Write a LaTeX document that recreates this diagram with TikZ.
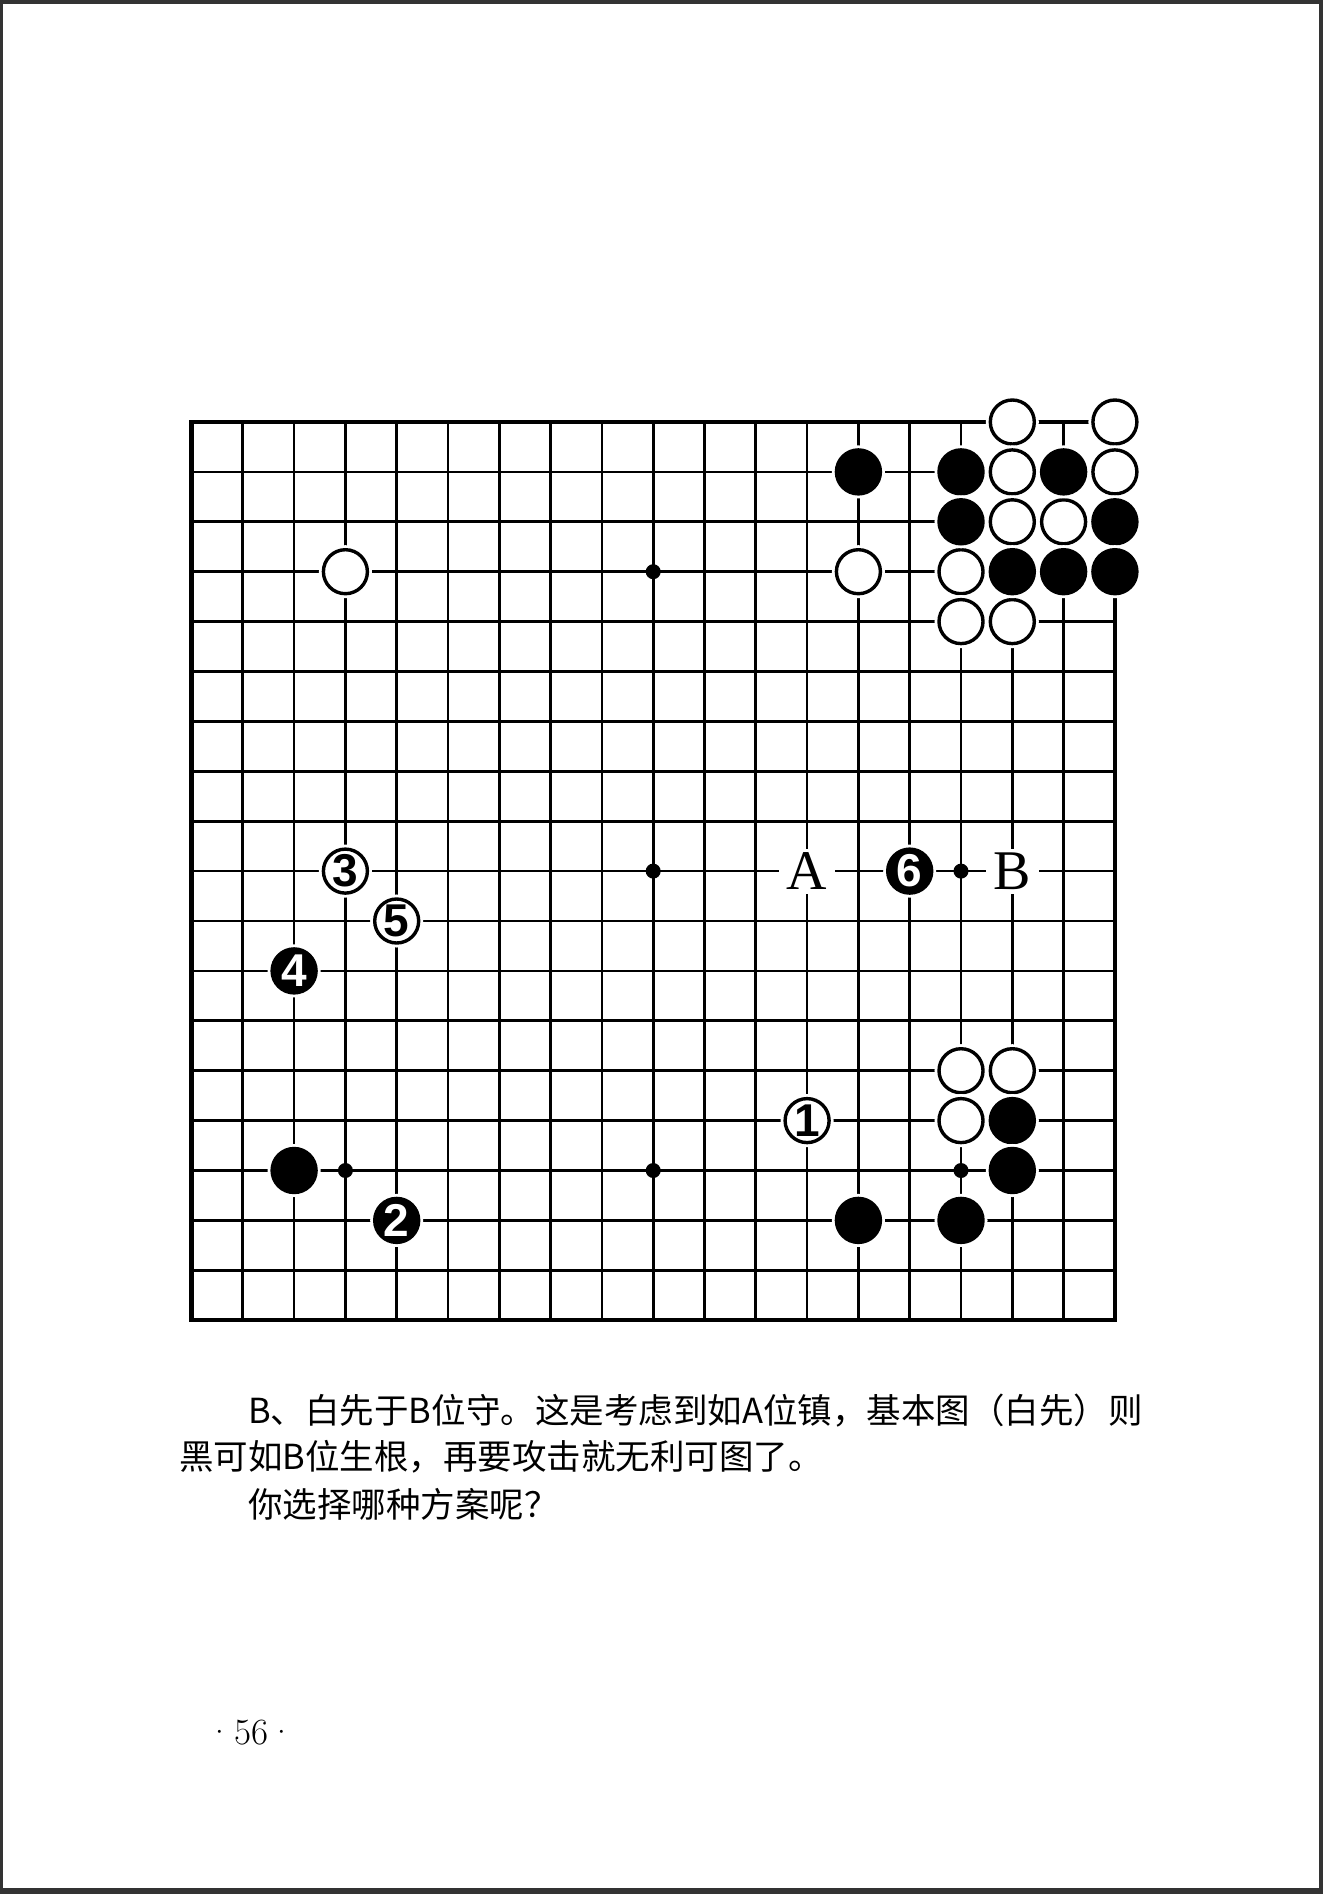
\documentclass[tikz,border=0pt]{standalone}
\usepackage{fontspec}
\newfontfamily\cjkfont{Noto Sans CJK SC}
\newfontfamily\numfont{Liberation Sans}
\newfontfamily\labfont{Liberation Serif}
\definecolor{framegray}{HTML}{333333}
\begin{document}
\begin{tikzpicture}[x=1pt,y=-1pt,
  gridline/.style={line width=2.7pt, black},
  edgeline/.style={line width=4.4pt, black, line join=miter},
  stonebase/.style={circle, inner sep=0pt, minimum size=44pt, draw=black,
     line width=3.4pt, preaction={draw=white, line width=9pt}},
  wstone/.style={stonebase, fill=white},
  bstone/.style={stonebase, fill=black},
  wnum/.style={wstone, font=\numfont\bfseries\fontsize{46}{46}\selectfont, text=black},
  bnum/.style={bstone, font=\numfont\bfseries\fontsize{46}{46}\selectfont, text=white},
  lab/.style={fill=white, inner xsep=8pt, inner ysep=4pt, font=\labfont\fontsize{56}{56}\selectfont},
  txt/.style={anchor=base west, inner sep=0pt, font=\cjkfont\fontsize{34.5}{40}\selectfont}]
\useasboundingbox (0,0) rectangle (1323,1894);
% page frame (scan border)
\fill[framegray] (0,0) rectangle (1323,4);
\fill[framegray] (0,0) rectangle (3,1894);
\fill[framegray] (1319,0) rectangle (1323,1894);
\fill[framegray] (0,1888) rectangle (1323,1894);
% board
\begin{scope}[shift={(191.5pt,-422pt)}, x=51.3pt, y=-49.9pt]
  \foreach \i in {1,...,17} {
    \draw[gridline] (\i,0) -- (\i,18);
    \draw[gridline] (0,\i) -- (18,\i);
  }
  \draw[edgeline] (0,0) rectangle (18,18);
  \foreach \c in {3,9,15} \foreach \r in {3,9,15}
    \fill (\c,\r) circle (7.5pt);
  % white stones
  \foreach \c/\r in {16/0,18/0,16/1,18/1,16/2,17/2,13/3,15/3,15/4,16/4,3/3,15/13,16/13,15/14}
    \node[wstone] (w-\c-\r) at (\c,\r) {};
  % black stones
  \foreach \c/\r in {13/1,15/1,17/1,15/2,18/2,16/3,17/3,18/3,2/15,16/14,16/15,13/16,15/16}
    \node[bstone] (b-\c-\r) at (\c,\r) {};
  % numbered stones
  \node[wnum] (m1) at (12,14) {1};
  \node[bnum] (m2) at (4,16) {2};
  \node[wnum] (m3) at (3,9) {3};
  \node[bnum] (m4) at (2,11) {4};
  \node[wnum] (m5) at (4,10) {5};
  \node[bnum] (m6) at (14,9) {6};
  % labels
  \node[lab] (la) at (12,9) {A};
  \node[lab] (lb) at (16,9) {B};
\end{scope}
% text
\node[txt] (t1) at (248,1423) {B、白先于B位守。这是考虑到如A位镇，基本图（白先）则};
\node[txt] (t2) at (179,1469) {黑可如B位生根，再要攻击就无利可图了。};
\node[txt] (t3) at (248,1517) {你选择哪种方案呢？};
\node[inner sep=0pt, font=\fontsize{37}{40}\selectfont] (pg) at (251,1733) {·\kern1pt 56\kern1pt·};
\end{tikzpicture}
\end{document}
